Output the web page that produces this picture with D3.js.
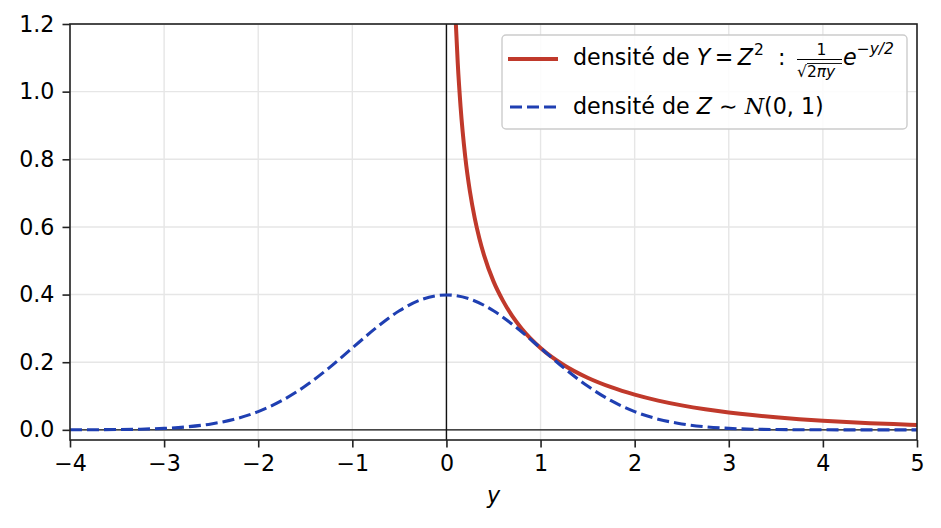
<!DOCTYPE html>
<html>
<head>
<meta charset="utf-8">
<script src="https://cdn.jsdelivr.net/npm/d3@7"></script>
<style>
  body { margin: 0; background: #fff; }
  svg { display: block; font-family: "DejaVu Sans", sans-serif; }
</style>
</head>
<body>
<svg id="chart" width="941" height="528"></svg>
<script>
// ---- data ----
const xTicks = [-4, -3, -2, -1, 0, 1, 2, 3, 4, 5];
const yTicks = [0.0, 0.2, 0.4, 0.6, 0.8, 1.0, 1.2];
const yTickLabels = ["0.0", "0.2", "0.4", "0.6", "0.8", "1.0", "1.2"];
const xTickLabels = ["\u22124", "\u22123", "\u22122", "\u22121", "0", "1", "2", "3", "4", "5"];

// density of Z ~ N(0,1)
const normX = [-4, -3.75, -3.5, -3.25, -3, -2.75, -2.5, -2.25, -2, -1.75, -1.5, -1.25, -1, -0.75, -0.5, -0.25, 0,
               0.25, 0.5, 0.75, 1, 1.25, 1.5, 1.75, 2, 2.25, 2.5, 2.75, 3, 3.25, 3.5, 3.75, 4, 4.25, 4.5, 4.75, 5];
const normY = [0.0001, 0.0004, 0.0009, 0.0020, 0.0044, 0.0091, 0.0175, 0.0317, 0.0540, 0.0863, 0.1295, 0.1826, 0.2420, 0.3011, 0.3521, 0.3867, 0.3989,
               0.3867, 0.3521, 0.3011, 0.2420, 0.1826, 0.1295, 0.0863, 0.0540, 0.0317, 0.0175, 0.0091, 0.0044, 0.0020, 0.0009, 0.0004, 0.0001, 0.00005, 0.00002, 0.000005, 0.0000015];

// density of Y = Z^2
const chiX = [0.05, 0.07, 0.09, 0.1, 0.12, 0.15, 0.2, 0.25, 0.3, 0.35, 0.4, 0.5, 0.6, 0.7, 0.8, 1.0, 1.25, 1.5, 1.75, 2, 2.25, 2.5, 2.75, 3, 3.25, 3.5, 3.75, 4, 4.25, 4.5, 4.75, 5];
const chiY = [1.740, 1.456, 1.271, 1.200, 1.085, 0.956, 0.807, 0.704, 0.627, 0.566, 0.516, 0.439, 0.382, 0.336, 0.299, 0.242, 0.191, 0.154, 0.126, 0.104, 0.0864, 0.0723, 0.0608, 0.0514, 0.0436, 0.0371, 0.0316, 0.0270, 0.0231, 0.0198, 0.0170, 0.0146];

// ---- layout ----
const svg = d3.select("#chart");
const L = 70, R = 917, T = 24, B = 440;
const x = d3.scaleLinear().domain([-4, 5]).range([L, R]);
const y = d3.scaleLinear().domain([-0.03, 1.2]).range([B, T]);
const FS = 22.2;
const SS = 15.5;

svg.append("defs").append("clipPath").attr("id", "clip")
  .append("rect").attr("x", L).attr("y", T).attr("width", R - L).attr("height", B - T);

// grid
const grid = svg.append("g");
grid.selectAll(".gx").data(xTicks).join("line")
  .attr("x1", d => x(d)).attr("x2", d => x(d)).attr("y1", T).attr("y2", B)
  .attr("stroke", "#e6e6e6").attr("stroke-width", 1.4);
grid.selectAll(".gy").data(yTicks).join("line")
  .attr("x1", L).attr("x2", R).attr("y1", d => y(d)).attr("y2", d => y(d))
  .attr("stroke", "#e6e6e6").attr("stroke-width", 1.4);

// reference lines at 0
svg.append("line").attr("x1", L).attr("x2", R).attr("y1", y(0)).attr("y2", y(0))
  .attr("stroke", "#111").attr("stroke-width", 1.4);
svg.append("line").attr("x1", x(0)).attr("x2", x(0)).attr("y1", T).attr("y2", B)
  .attr("stroke", "#111").attr("stroke-width", 1.4);

// curves
const line = d3.line().x(d => x(d[0])).y(d => y(d[1])).curve(d3.curveMonotoneX);
const plot = svg.append("g").attr("clip-path", "url(#clip)");
plot.append("path").datum(chiX.map((v, i) => [v, chiY[i]]))
  .attr("d", line).attr("fill", "none").attr("stroke", "#c0392b").attr("stroke-width", 4);
plot.append("path").datum(normX.map((v, i) => [v, normY[i]]))
  .attr("d", line).attr("fill", "none").attr("stroke", "#1f3fb2").attr("stroke-width", 3.1)
  .attr("stroke-dasharray", "12,5");

// axes
const xAxis = d3.axisBottom(x).tickValues(xTicks).tickFormat((d, i) => xTickLabels[i]).tickSize(7.5).tickPadding(8);
const yAxis = d3.axisLeft(y).tickValues(yTicks).tickFormat((d, i) => yTickLabels[i]).tickSize(7.5).tickPadding(8);
const gx = svg.append("g").attr("transform", `translate(0,${B})`).call(xAxis);
const gy = svg.append("g").attr("transform", `translate(${L},0)`).call(yAxis);
[gx, gy].forEach(g => {
  g.select(".domain").remove();
  g.selectAll(".tick line").attr("stroke", "#222").attr("stroke-width", 1.6);
  g.selectAll(".tick text").attr("fill", "#000").style("font-size", FS + "px").style("font-family", "DejaVu Sans");
});
// spines
svg.append("rect").attr("x", L).attr("y", T).attr("width", R - L).attr("height", B - T)
  .attr("fill", "none").attr("stroke", "#222").attr("stroke-width", 1.6);

// x label
svg.append("text").attr("x", (L + R) / 2).attr("y", 503).attr("text-anchor", "middle")
  .style("font-size", FS + "px").style("font-style", "italic").text("y");

// legend
const lg = svg.append("g");
lg.append("rect").attr("x", 502).attr("y", 35).attr("width", 405).attr("height", 94)
  .attr("rx", 4).attr("fill", "#fff").attr("fill-opacity", 0.85).attr("stroke", "#cccccc").attr("stroke-width", 1.4);
lg.append("line").attr("x1", 508).attr("x2", 558).attr("y1", 59).attr("y2", 59)
  .attr("stroke", "#c0392b").attr("stroke-width", 4);
lg.append("line").attr("x1", 510).attr("x2", 556).attr("y1", 107).attr("y2", 107)
  .attr("stroke", "#1f3fb2").attr("stroke-width", 3.1).attr("stroke-dasharray", "12,5");

const t1 = lg.append("text").attr("x", 573).attr("y", 65).style("font-size", FS + "px");
t1.append("tspan").text("densit\u00e9 de ");
t1.append("tspan").style("font-style", "italic").text("Y");
t1.append("tspan").text("\u2009=\u2009");
t1.append("tspan").style("font-style", "italic").text("Z");
t1.append("tspan").attr("dy", -10).attr("dx", 1).style("font-size", SS + "px").text("2");
lg.append("text").attr("x", 778).attr("y", 65).style("font-size", FS + "px").text(":");
const fx = 797;
const fw = 45;
lg.append("text").attr("x", fx + fw / 2 + 2).attr("y", 55).attr("text-anchor", "middle")
  .style("font-size", SS + "px").text("1");
lg.append("line").attr("x1", fx).attr("x2", fx + fw).attr("y1", 59.5).attr("y2", 59.5)
  .attr("stroke", "#000").attr("stroke-width", 1);
const den = lg.append("text").attr("x", fx).attr("y", 77).style("font-size", SS + "px");
den.append("tspan").text("\u221a");
den.append("tspan").text("2");
den.append("tspan").style("font-style", "italic").text("\u03c0y");
lg.append("line").attr("x1", fx + 10).attr("x2", fx + fw).attr("y1", 63.5).attr("y2", 63.5)
  .attr("stroke", "#000").attr("stroke-width", 0.9);
const t2 = lg.append("text").attr("x", fx + fw + 1).attr("y", 65).style("font-size", FS + "px");
t2.append("tspan").style("font-style", "italic").text("e");
t2.append("tspan").attr("dy", -11).style("font-size", SS + "px").text("\u2212");
t2.append("tspan").style("font-size", SS + "px").style("font-style", "italic").text("y");
t2.append("tspan").style("font-size", SS + "px").style("font-style", "italic").text("/2");

const t3 = lg.append("text").attr("x", 573).attr("y", 114).style("font-size", FS + "px");
t3.append("tspan").text("densit\u00e9 de ");
t3.append("tspan").style("font-style", "italic").text("Z");
t3.append("tspan").text(" \u223c ");
t3.append("tspan").style("font-style", "italic").style("font-family", "DejaVu Serif").text("N");
t3.append("tspan").text("(0, 1)");
</script>
</body>
</html>
